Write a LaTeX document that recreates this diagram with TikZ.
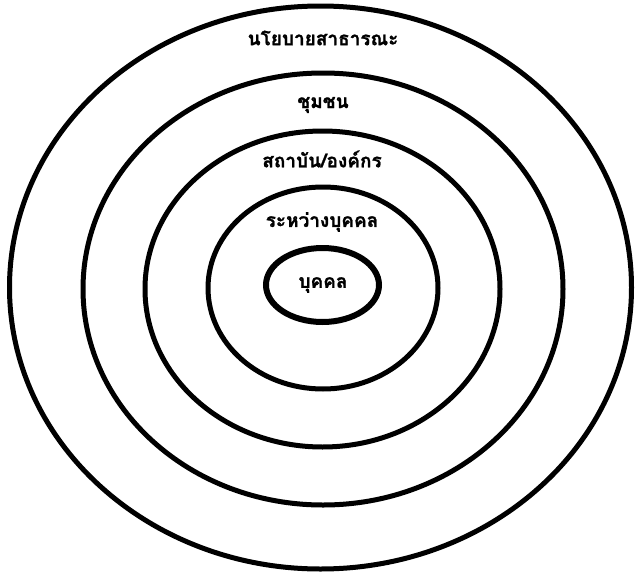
\documentclass[tikz,border=0pt]{standalone}
\usepackage{fontspec}
\newfontfamily\thaifont[Script=Thai,BoldFeatures={FakeBold=1.2}]{Loma}
\usetikzlibrary{shapes.geometric}
\begin{document}
\begin{tikzpicture}[x=1pt,y=-1pt,
  ring/.style={draw=black,line width=5pt,ellipse,inner sep=0pt,fill=none},
  lbl/.style={font=\thaifont\bfseries\fontsize{19}{22}\selectfont,inner sep=0pt,anchor=center}]
\useasboundingbox (0,0) rectangle (635,573);
\node[ring,minimum width=622pt,minimum height=563pt] (r1) at (320.5,287.5) {};
\node[ring,minimum width=480pt,minimum height=432pt] (r2) at (323,289) {};
\node[ring,minimum width=355pt,minimum height=316pt] (r3) at (322.5,289) {};
\node[ring,minimum width=230pt,minimum height=202pt] (r4) at (323,288) {};
\node[ring,line width=6pt,minimum width=113pt,minimum height=74pt] (r5) at (322.5,285) {};
\node[lbl] (t1) at (323,38) {นโยบายสาธารณะ};
\node[lbl] (t2) at (323,105) {ชุมชน};
\node[lbl] (t3) at (322,159) {สถาบัน/องค์กร};
\node[lbl] (t4) at (322,222) {ระหว่างบุคคล};
\node[lbl] (t5) at (323,285) {บุคคล};
\end{tikzpicture}
\end{document}
